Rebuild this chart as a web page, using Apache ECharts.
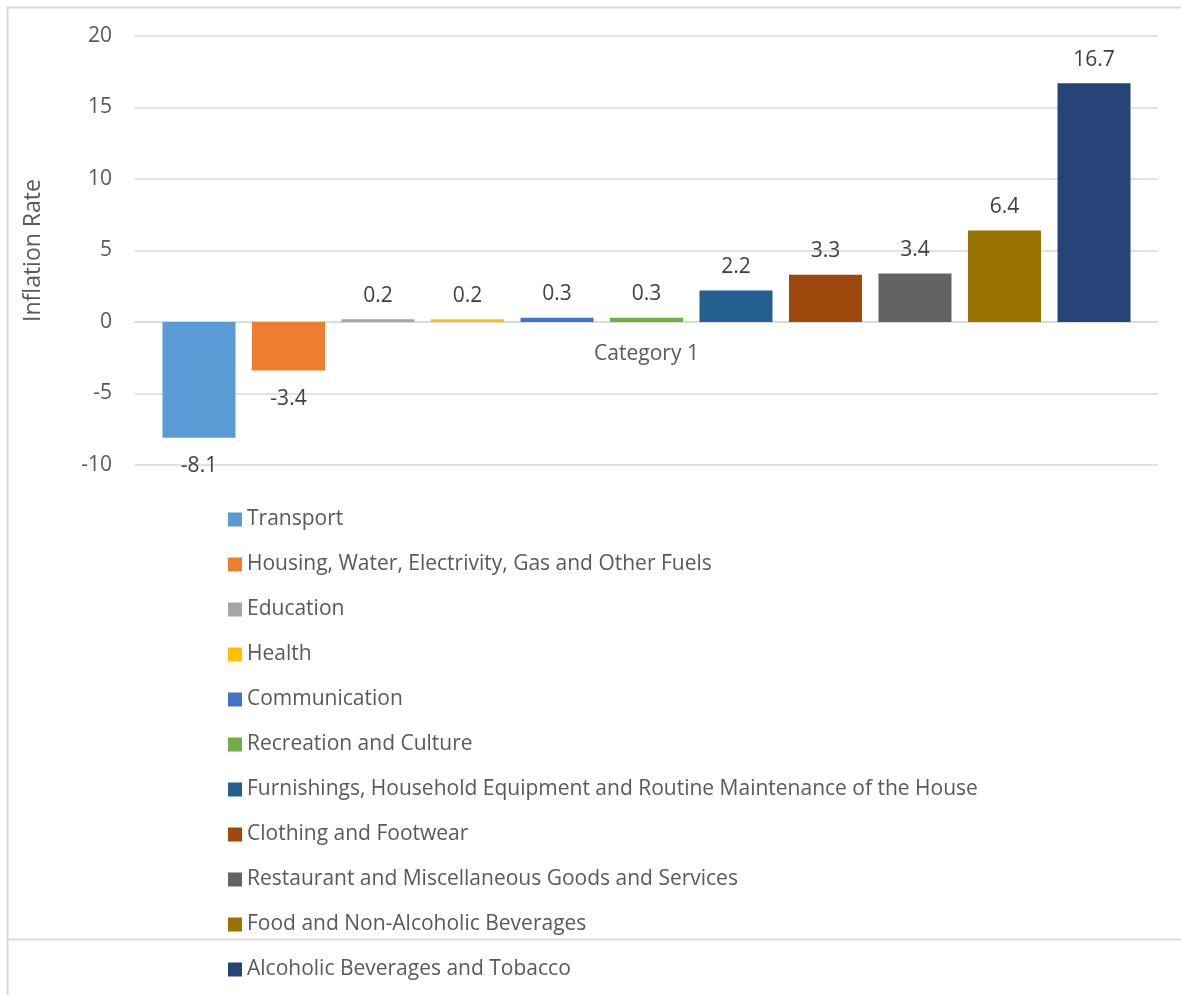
<!DOCTYPE html>
<html>
<head>
<meta charset="utf-8">
<script src="https://cdn.jsdelivr.net/npm/echarts@6/dist/echarts.min.js"></script>
<style>html,body{margin:0;padding:0;background:#fff}#c{width:1181px;height:995px}</style>
</head>
<body>
<div id="c"></div>
<script>
const categories = ['Category 1'];
const seriesNames = [
  'Transport',
  'Housing, Water, Electrivity, Gas and Other Fuels',
  'Education',
  'Health',
  'Communication',
  'Recreation and Culture',
  'Furnishings, Household Equipment and Routine Maintenance of the House',
  'Clothing and Footwear',
  'Restaurant and Miscellaneous Goods and Services',
  'Food and Non-Alcoholic Beverages',
  'Alcoholic Beverages and Tobacco'
];
const seriesValues = [-8.1, -3.4, 0.2, 0.2, 0.3, 0.3, 2.2, 3.3, 3.4, 6.4, 16.7];
const colors = ['#5B9BD5','#ED7D31','#A5A5A5','#FFC000','#4472C4','#70AD47','#255E91','#9E480E','#636363','#997300','#264478'];
const yTicks = { min: -10, max: 20, interval: 5 };
const yTitle = 'Inflation Rate';

const font = '"Open Sans", "Noto Sans", sans-serif';
const chart = echarts.init(document.getElementById('c'), null, { renderer: 'canvas' });
chart.setOption({
  animation: false,
  color: colors,
  textStyle: { fontFamily: font },
  graphic: [
    { type: 'line', shape: { x1: 7.5, y1: 7, x2: 7.5, y2: 995 }, style: { stroke: '#d9d9d9', lineWidth: 2 } },
    { type: 'line', shape: { x1: 7, y1: 7.5, x2: 1181, y2: 7.5 }, style: { stroke: '#d9d9d9', lineWidth: 2 } },
    { type: 'line', shape: { x1: 8, y1: 939.5, x2: 1181, y2: 939.5 }, style: { stroke: '#d9d9d9', lineWidth: 2 } }
  ],
  grid: { left: 135, right: 23, top: 36, bottom: 530, containLabel: false },
  legend: {
    orient: 'vertical', left: 228, top: 509, padding: 0,
    itemWidth: 14, itemHeight: 14, itemGap: 24,
    icon: 'rect',
    textStyle: { fontSize: 21, color: '#595959', fontFamily: font },
    data: seriesNames
  },
  xAxis: {
    type: 'category', data: categories,
    axisLine: { show: true, onZero: true, lineStyle: { color: '#d9d9d9', width: 1.5 } },
    axisTick: { show: false },
    axisLabel: { fontSize: 21, color: '#595959', margin: -121, fontFamily: font }
  },
  yAxis: {
    type: 'value', min: yTicks.min, max: yTicks.max, interval: yTicks.interval,
    name: yTitle, nameLocation: 'middle', nameGap: 90, nameRotate: 90,
    nameTextStyle: { fontSize: 23, color: '#595959', fontFamily: font },
    axisLine: { show: false }, axisTick: { show: false },
    axisLabel: { fontSize: 21, color: '#595959', margin: 23, fontFamily: font },
    splitLine: { lineStyle: { color: '#d9d9d9', width: 1.5 } }
  },
  series: seriesNames.map((n, i) => ({
    name: n, type: 'bar',
    data: [seriesValues[i]],
    barWidth: 73,
    barGap: '22.6%',
    itemStyle: { color: colors[i] },
    label: {
      show: true,
      position: seriesValues[i] < 0 ? 'bottom' : 'top',
      distance: seriesValues[i] < 0 ? 18 : 13,
      fontSize: 21, color: '#404040', fontFamily: font,
      formatter: p => p.value.toFixed(1)
    }
  }))
});
</script>
</body>
</html>
